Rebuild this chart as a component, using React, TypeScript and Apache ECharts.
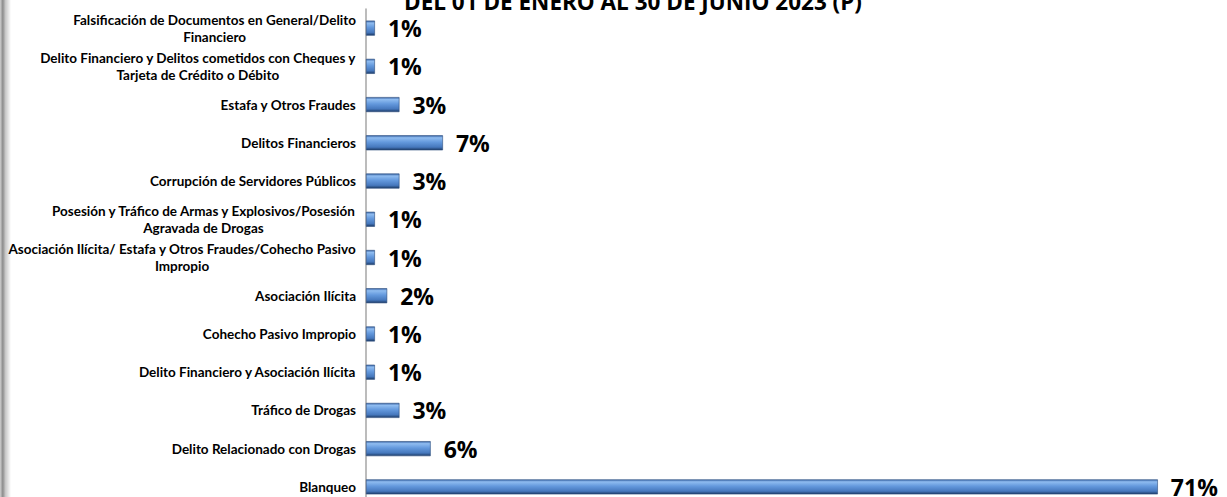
import React, { useEffect, useRef } from "react";
import * as echarts from "echarts";

const categories: string[] = [
  "Falsificación de Documentos en General/Delito\nFinanciero",
  "Delito Financiero y Delitos cometidos con Cheques y\nTarjeta de Crédito o Débito",
  "Estafa y Otros Fraudes",
  "Delitos Financieros",
  "Corrupción de Servidores Públicos",
  "Posesión y Tráfico de Armas y Explosivos/Posesión\nAgravada de Drogas",
  "Asociación Ilícita/ Estafa y Otros Fraudes/Cohecho Pasivo\nImpropio",
  "Asociación Ilícita",
  "Cohecho Pasivo Impropio",
  "Delito Financiero y Asociación Ilícita",
  "Tráfico de Drogas",
  "Delito Relacionado con Drogas",
  "Blanqueo",
];

const values: number[] = [0.8, 0.8, 3.0, 6.9, 3.0, 0.8, 0.8, 1.9, 0.8, 0.8, 3.0, 5.8, 71.0];
const valueLabels: string[] = ["1%", "1%", "3%", "7%", "3%", "1%", "1%", "2%", "1%", "1%", "3%", "6%", "71%"];

const titleText = "DEL 01 DE ENERO AL 30 DE JUNIO 2023 (P)";

export default function App() {
  const ref = useRef<HTMLDivElement>(null);
  useEffect(() => {
    if (!ref.current) return;
    const chart = echarts.init(ref.current, null, { renderer: "svg" });
    const barColor = new echarts.graphic.LinearGradient(0, 0, 0, 1, [
      { offset: 0, color: "#3a66a8" },
      { offset: 0.15, color: "#8fbcf0" },
      { offset: 0.45, color: "#6499dd" },
      { offset: 0.8, color: "#4678bd" },
      { offset: 1, color: "#1c3a66" },
    ]);
    chart.setOption({
      animation: false,
      backgroundColor: "#ffffff",
      grid: { left: 366, right: 0, top: 9, bottom: 14, containLabel: false },
      xAxis: {
        type: "value",
        min: 0,
        max: 77.2,
        show: false,
      },
      yAxis: {
        type: "category",
        inverse: true,
        data: categories,
        axisLine: { show: true, lineStyle: { color: "#a6a6a6", width: 1.5 } },
        axisTick: { show: false },
        splitLine: { show: false },
        axisLabel: {
          margin: 10,
          align: "right",
          fontFamily: "Lato",
          fontWeight: "bold",
          fontSize: 13.5,
          color: "#000",
          lineHeight: 17,
          formatter: (v: string) =>
            v
              .split("\n")
              .map((l) => "{c|" + l + "}")
              .join("\n"),
          rich: {
            c: {
              align: "center",
              fontFamily: "Lato",
              fontWeight: "bold",
              fontSize: 13.5,
              color: "#000",
              lineHeight: 17,
            },
          },
        },
      },
      series: [
        {
          type: "bar",
          data: values,
          barWidth: 15,
          itemStyle: {
            color: barColor,
            borderColor: "#2b4d7e",
            borderWidth: 0.6,
          },
          label: {
            show: true,
            position: "right",
            distance: 13,
            fontFamily: "Open Sans",
            fontWeight: "bold",
            fontSize: 23,
            lineHeight: 20,
            color: "#000",
            formatter: (p: any) => valueLabels[p.dataIndex],
          },
        },
      ],
      graphic: [
        {
          type: "rect",
          shape: { x: 0, y: 0, width: 11, height: 520 },
          style: {
            fill: new echarts.graphic.LinearGradient(0, 0, 1, 0, [
              { offset: 0, color: "#d0d0d0" },
              { offset: 0.25, color: "#8c8c8c" },
              { offset: 0.5, color: "#c8c8c8" },
              { offset: 1, color: "#ffffff" },
            ]),
          },
          silent: true,
        },
        {
          type: "text",
          left: 404,
          top: -10,
          style: {
            text: titleText,
            fontFamily: "Open Sans",
            fontWeight: "bold",
            fontSize: 22.5,
            fill: "#000",
          },
          silent: true,
        },
      ],
    });
    return () => chart.dispose();
  }, []);
  return (
    <div
      ref={ref}
      style={{ position: "fixed", left: 0, top: 0, width: 1227, height: 520 }}
    />
  );
}
